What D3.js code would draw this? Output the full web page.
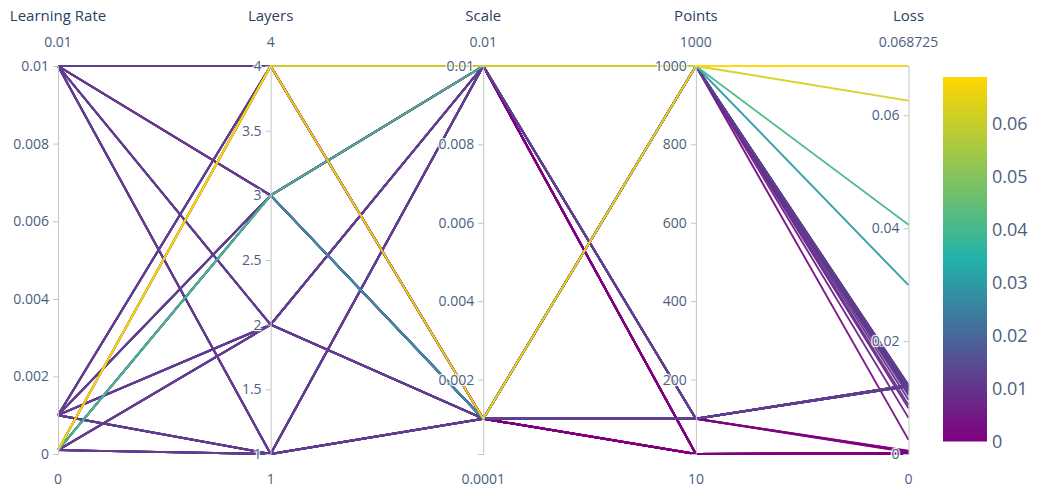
<!DOCTYPE html>
<html>
<head>
<meta charset="utf-8">
<script src="https://cdn.jsdelivr.net/npm/d3@7"></script>
<style>
  body { margin: 0; background: #fff; }
  svg text { font-family: "Open Sans", verdana, arial, sans-serif; fill: #2a3f5f; }
  .axis .tick text, .range-label {
    text-shadow: 1px 1px 1px #fff, -1px -1px 1px #fff, 1px -1px 1px #fff, -1px 1px 1px #fff;
  }
</style>
</head>
<body>
<svg id="chart" width="1039" height="490"></svg>
<script>
// Hyperparameter sweep: one run per column entry
const learningRate = [
  0.01, 0.01, 0.01, 0.01, 0.01, 0.01, 0.01, 0.01,
  0.001, 0.001, 0.001, 0.001, 0.001, 0.001, 0.001, 0.001,
  0.0001, 0.0001, 0.0001, 0.0001, 0.0001, 0.0001, 0.0001, 0.0001,
  0.01, 0.01, 0.01, 0.01, 0.01, 0.01, 0.01, 0.01,
  0.001, 0.001, 0.001, 0.001, 0.001, 0.001, 0.001, 0.001,
  0.0001, 0.0001, 0.0001, 0.0001, 0.0001, 0.0001, 0.0001, 0.0001,
  0.01, 0.01, 0.01, 0.01, 0.01, 0.01, 0.01, 0.01,
  0.001, 0.001, 0.001, 0.001, 0.001, 0.001, 0.001, 0.001,
  0.0001, 0.0001, 0.0001, 0.0001, 0.0001, 0.0001, 0.0001, 0.0001
];
const layers = [
  4, 4, 3, 3, 2, 2, 1, 1,  4, 4, 3, 3, 2, 2, 1, 1,  4, 4, 3, 3, 2, 2, 1, 1,
  4, 4, 3, 3, 2, 2, 1, 1,  4, 4, 3, 3, 2, 2, 1, 1,  4, 4, 3, 3, 2, 2, 1, 1,
  4, 4, 3, 3, 2, 2, 1, 1,  4, 4, 3, 3, 2, 2, 1, 1,  4, 4, 3, 3, 2, 2, 1, 1
];
const scale = [
  0.01, 0.001, 0.01, 0.001, 0.01, 0.001, 0.01, 0.001,
  0.01, 0.001, 0.01, 0.001, 0.01, 0.001, 0.01, 0.001,
  0.01, 0.001, 0.01, 0.001, 0.01, 0.001, 0.01, 0.001,
  0.01, 0.001, 0.01, 0.001, 0.01, 0.001, 0.01, 0.001,
  0.01, 0.001, 0.01, 0.001, 0.01, 0.001, 0.01, 0.001,
  0.01, 0.001, 0.01, 0.001, 0.01, 0.001, 0.01, 0.001,
  0.01, 0.001, 0.01, 0.001, 0.01, 0.001, 0.01, 0.001,
  0.01, 0.001, 0.01, 0.001, 0.01, 0.001, 0.01, 0.001,
  0.01, 0.001, 0.01, 0.001, 0.01, 0.001, 0.01, 0.001
];
const points = [
  1000, 1000, 1000, 1000, 1000, 1000, 1000, 1000,
  1000, 1000, 1000, 1000, 1000, 1000, 1000, 1000,
  1000, 1000, 1000, 1000, 1000, 1000, 1000, 1000,
  100, 100, 100, 100, 100, 100, 100, 100,
  100, 100, 100, 100, 100, 100, 100, 100,
  100, 100, 100, 100, 100, 100, 100, 100,
  10, 10, 10, 10, 10, 10, 10, 10,
  10, 10, 10, 10, 10, 10, 10, 10,
  10, 10, 10, 10, 10, 10, 10, 10
];
const loss = [
  0.0122, 0.0121, 0.0120, 0.0118, 0.0116, 0.0113, 0.0104, 0.0096,
  0.0121, 0.0119, 0.0117, 0.0115, 0.0111, 0.0108, 0.0087, 0.0081,
  0.0626, 0.068725, 0.0406, 0.0299, 0.0122, 0.0064, 0.0120, 0.0025,
  0.0004, 0.0005, 0.0003, 0.0006, 0.0122, 0.0121, 0.0122, 0.0120,
  0.0121, 0.0122, 0.0120, 0.0121, 0.0122, 0.0121, 0.0120, 0.0122,
  0.0122, 0.0121, 0.0122, 0.0120, 0.0121, 0.0122, 0.0121, 0.0120,
  0.0001, 0.00005, 0.0002, 0.00008, 0.00012, 0.00006, 0.00015, 0.00004,
  0.00009, 0.00011, 0.00007, 0.00013, 0.00005, 0.0001, 0.00003, 0.00008,
  0.00014, 0.00006, 0.0001, 0.00009, 0.00004, 0.00012, 0.00007, 0.00005
];

// Axis definitions
const dimensionNames = ["Learning Rate", "Layers", "Scale", "Points", "Loss"];
const dimensionRanges = [[0, 0.01], [1, 4], [0.0001, 0.01], [10, 1000], [0, 0.068725]];
const rangeMinLabels = ["0", "1", "0.0001", "10", "0"];
const rangeMaxLabels = ["0.01", "4", "0.01", "1000", "0.068725"];
const tickValues = [
  [0, 0.002, 0.004, 0.006, 0.008, 0.01],
  [1, 1.5, 2, 2.5, 3, 3.5, 4],
  [0.002, 0.004, 0.006, 0.008, 0.01],
  [200, 400, 600, 800, 1000],
  [0, 0.02, 0.04, 0.06]
];
const tickLabels = [
  ["0", "0.002", "0.004", "0.006", "0.008", "0.01"],
  ["1", "1.5", "2", "2.5", "3", "3.5", "4"],
  ["0.002", "0.004", "0.006", "0.008", "0.01"],
  ["200", "400", "600", "800", "1000"],
  ["0", "0.02", "0.04", "0.06"]
];
const colorbarTicks = [0, 0.01, 0.02, 0.03, 0.04, 0.05, 0.06];
const colorbarLabels = ["0", "0.01", "0.02", "0.03", "0.04", "0.05", "0.06"];
const colorStops = ["#800080", "#20b2aa", "#ffd700"];

const columns = [learningRate, layers, scale, points, loss];
const records = loss.map((_, i) => columns.map(col => col[i]));

const svg = d3.select("#chart");
const plotTop = 66, plotBottom = 454;

const x = d3.scalePoint().domain(d3.range(dimensionNames.length)).range([58, 908.5]);
const yScales = dimensionRanges.map(r => d3.scaleLinear().domain(r).range([plotBottom, plotTop]));

const lossMax = dimensionRanges[4][1];
const color = d3.scaleLinear()
  .domain([0, lossMax / 2, lossMax])
  .range(colorStops)
  .interpolate(d3.interpolateRgb);

// Polylines, higher loss drawn on top
const line = d3.line();
const order = d3.range(records.length).sort((a, b) => loss[a] - loss[b]);
svg.append("g").attr("class", "lines")
  .selectAll("path")
  .data(order)
  .join("path")
  .attr("d", i => line(records[i].map((v, d) => [x(d), yScales[d](v)])))
  .attr("fill", "none")
  .attr("stroke", i => color(loss[i]))
  .attr("stroke-width", 1.9)
  .attr("stroke-opacity", 0.95)
  .attr("stroke-linejoin", "round");

// Axes
dimensionNames.forEach((name, d) => {
  const g = svg.append("g")
    .attr("class", "axis")
    .attr("transform", `translate(${x(d)},0)`);
  const axis = d3.axisLeft(yScales[d])
    .tickValues(tickValues[d])
    .tickFormat((v, k) => tickLabels[d][k])
    .tickSizeInner(5)
    .tickSizeOuter(5)
    .tickPadding(4);
  g.call(axis);
  g.select(".domain").attr("stroke", "#c4c4c4");
  g.selectAll(".tick line").attr("stroke", "#c4c4c4");
  g.selectAll(".tick text")
    .attr("font-size", 14)
    .style("fill", "#4a5f80");

  g.append("text")
    .attr("y", 21)
    .attr("text-anchor", "middle")
    .attr("font-size", 15)
    .text(name);
  g.append("text")
    .attr("class", "range-label")
    .attr("y", 47)
    .attr("text-anchor", "middle")
    .attr("font-size", 14)
    .style("fill", "#4a5f80")
    .text(rangeMaxLabels[d]);
  g.append("text")
    .attr("class", "range-label")
    .attr("y", 484)
    .attr("text-anchor", "middle")
    .attr("font-size", 14)
    .style("fill", "#4a5f80")
    .text(rangeMinLabels[d]);
});

// Colorbar
const cbTop = 77, cbBottom = 441.5, cbX = 943, cbW = 44;
const cbScale = d3.scaleLinear().domain([0, lossMax]).range([cbBottom, cbTop]);
const grad = svg.append("defs").append("linearGradient")
  .attr("id", "lossGradient")
  .attr("x1", 0).attr("y1", 1).attr("x2", 0).attr("y2", 0);
grad.selectAll("stop")
  .data(colorStops)
  .join("stop")
  .attr("offset", (c, k) => k / (colorStops.length - 1))
  .attr("stop-color", c => c);
svg.append("rect")
  .attr("x", cbX).attr("y", cbTop)
  .attr("width", cbW).attr("height", cbBottom - cbTop)
  .attr("fill", "url(#lossGradient)");
svg.append("g").selectAll("text")
  .data(colorbarTicks)
  .join("text")
  .attr("x", cbX + cbW + 5)
  .attr("y", v => cbScale(v))
  .attr("dy", "0.35em")
  .attr("font-size", 18)
  .style("fill", "#4a5f80")
  .text((v, k) => colorbarLabels[k]);
</script>
</body>
</html>
